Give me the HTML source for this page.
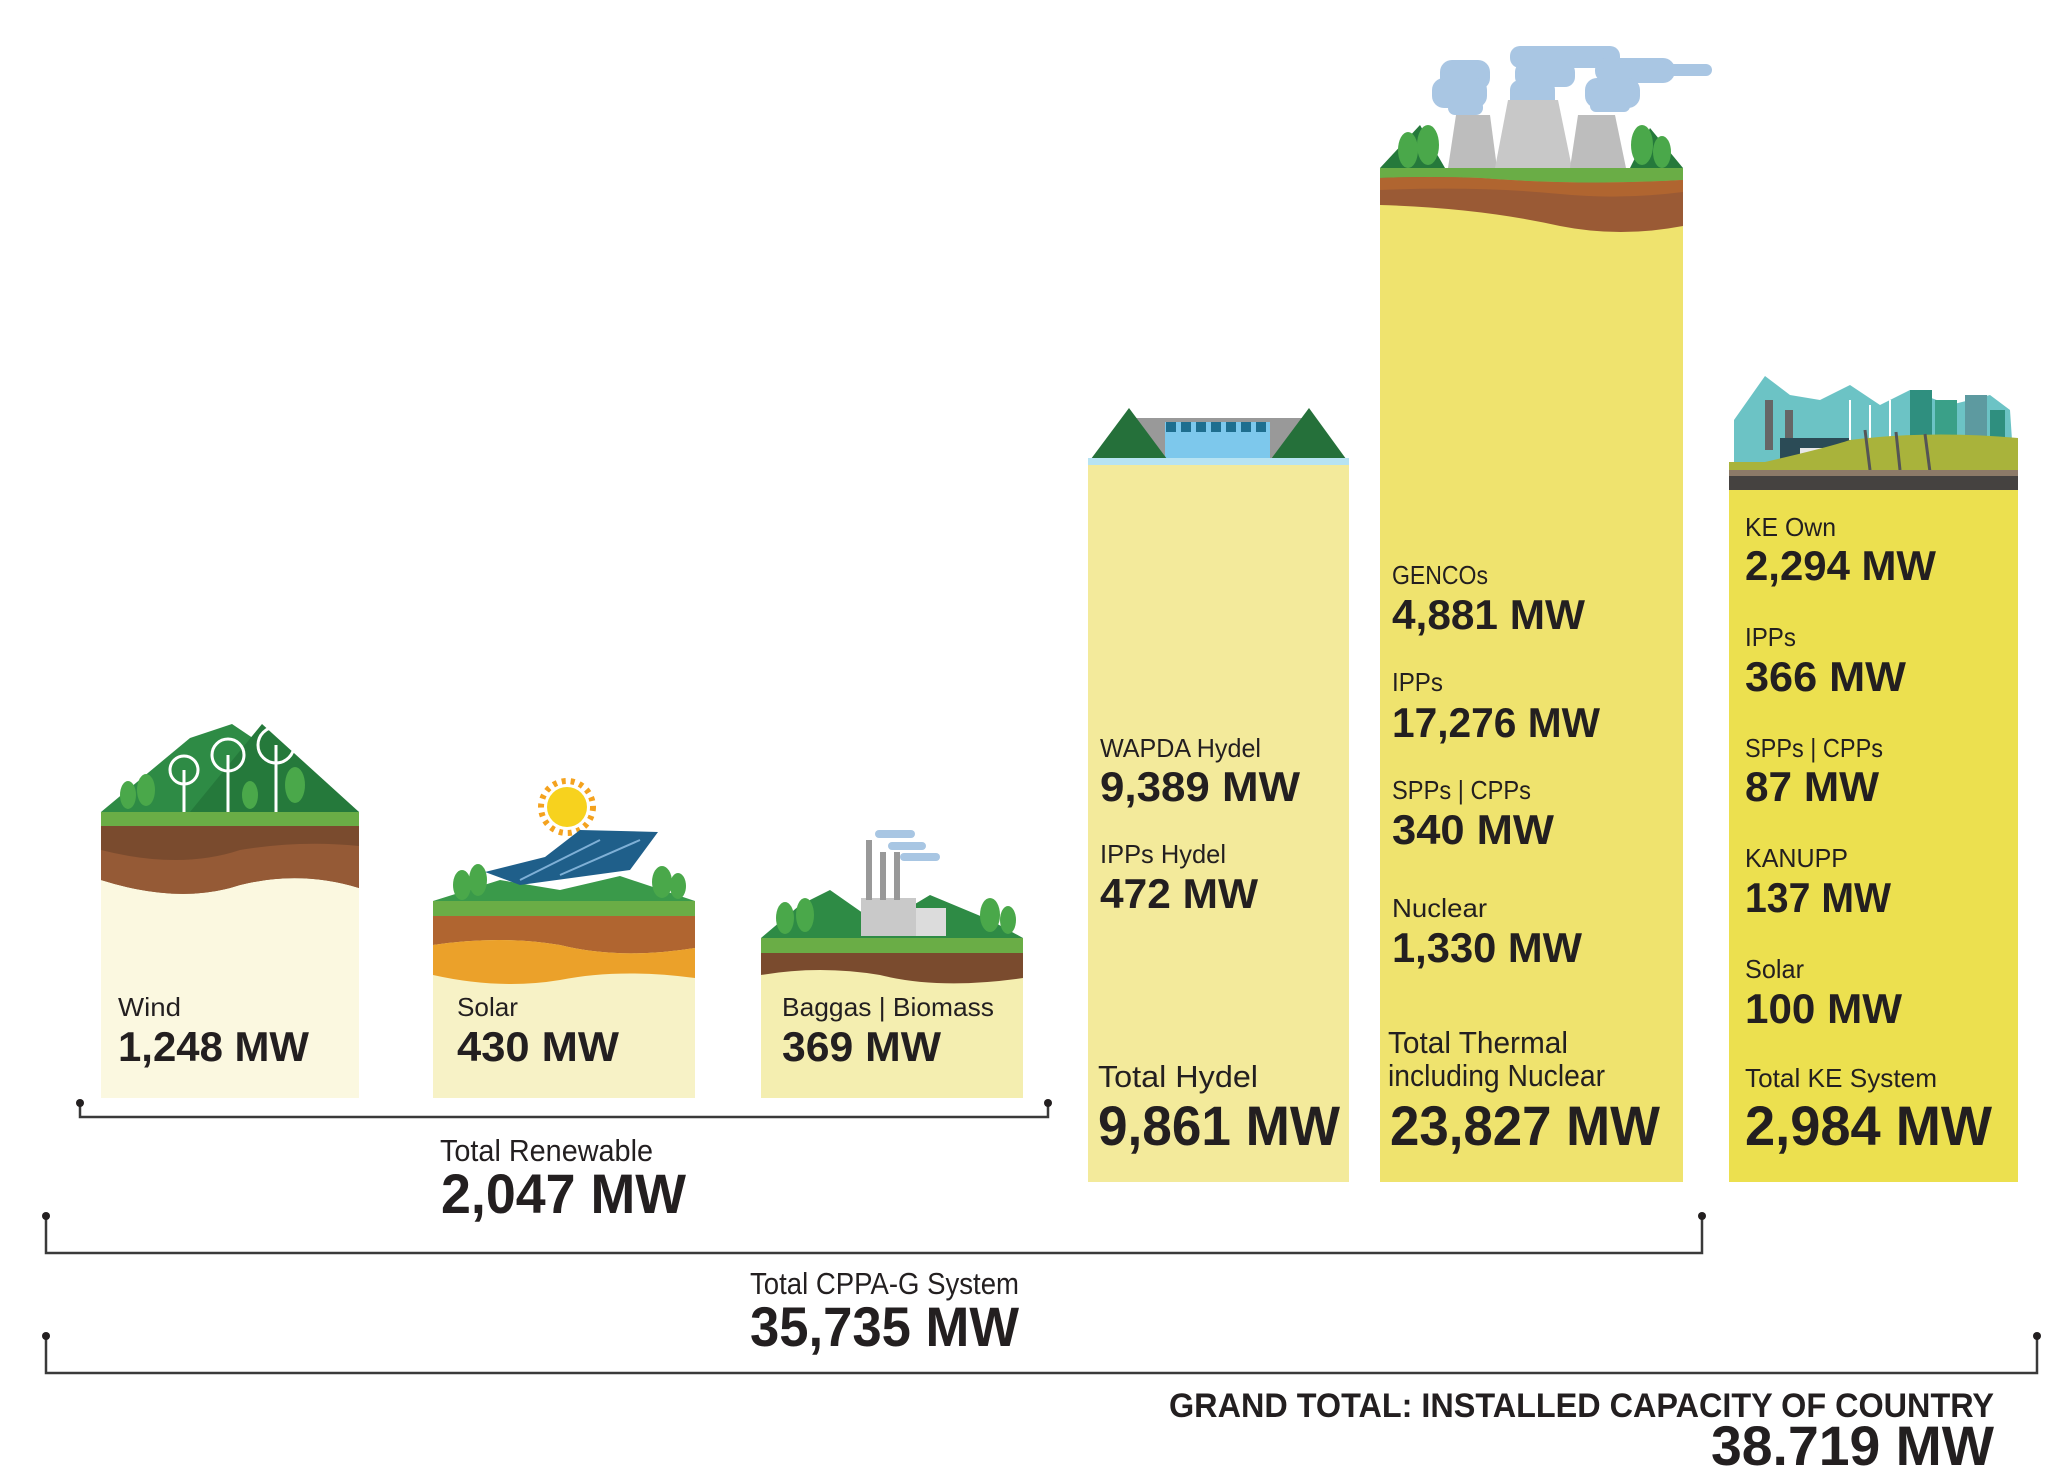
<!DOCTYPE html>
<html><head><meta charset="utf-8"><style>
html,body{margin:0;padding:0;background:#fff;}
svg{display:block}
text{font-family:"Liberation Sans Narrow","Liberation Sans",sans-serif;fill:#231f20;}
.l{font-size:26px;}
.v{font-size:42px;font-weight:bold;}
.tl{font-size:31px;}
.tv{font-size:56px;font-weight:bold;}
</style></head><body>
<svg width="2064" height="1480" viewBox="0 0 2064 1480" xmlns="http://www.w3.org/2000/svg">
<!-- WIND -->
<rect x="101" y="812" width="258" height="286" fill="#fbf8e0"/>
<polygon points="101,812 190,738 232,724 300,770 359,812" fill="#2e8b45"/>
<polygon points="190,812 262,724 359,812" fill="#25793b"/>
<g stroke="#fff" stroke-width="3" fill="none">
<line x1="184" y1="812" x2="184" y2="770"/><line x1="228" y1="812" x2="228" y2="755"/><line x1="276" y1="812" x2="276" y2="745"/>
<circle cx="184" cy="770" r="14"/><circle cx="228" cy="755" r="16"/><circle cx="276" cy="745" r="18"/>
</g>
<g fill="#4aa84a"><ellipse cx="128" cy="795" rx="8" ry="14"/><ellipse cx="146" cy="790" rx="9" ry="16"/><ellipse cx="250" cy="795" rx="8" ry="14"/><ellipse cx="295" cy="785" rx="10" ry="18"/></g>
<rect x="101" y="812" width="258" height="14" fill="#6aad46"/>
<path d="M101,826 H359 V888 Q300,870 240,885 Q180,905 101,880 Z" fill="#7a4b2e"/>
<path d="M101,850 Q180,870 240,850 Q300,840 359,846 V888 Q300,870 240,885 Q180,905 101,880 Z" fill="#955a36"/>
<!-- SOLAR -->
<rect x="433" y="901" width="262" height="197" fill="#f7f2c6"/>
<polygon points="433,901 500,880 560,890 620,876 695,901" fill="#3a9a4a"/>
<circle cx="567" cy="807" r="20" fill="#f7d21e"/>
<circle cx="567" cy="807" r="26" fill="none" stroke="#f4a21e" stroke-width="6" stroke-dasharray="4 5"/>
<polygon points="485,872 545,857 580,830 658,832 630,870 520,885" fill="#1f5f8a"/>
<g stroke="#7fb0d6" stroke-width="2"><line x1="520" y1="880" x2="600" y2="840"/><line x1="560" y1="875" x2="640" y2="840"/></g>
<g fill="#4aa84a"><ellipse cx="462" cy="885" rx="9" ry="15"/><ellipse cx="478" cy="880" rx="9" ry="16"/><ellipse cx="662" cy="882" rx="10" ry="16"/><ellipse cx="678" cy="886" rx="8" ry="13"/></g>
<rect x="433" y="901" width="262" height="15" fill="#6aad46"/>
<path d="M433,916 H695 V948 Q620,960 560,945 Q500,935 433,945 Z" fill="#b06530"/>
<path d="M433,945 Q500,935 560,945 Q620,960 695,948 V978 Q620,968 560,980 Q500,990 433,975 Z" fill="#eba12a"/>
<!-- BIOMASS -->
<rect x="761" y="938" width="262" height="160" fill="#f4eeb0"/>
<polygon points="761,938 800,905 830,890 880,925 930,895 990,920 1023,938" fill="#2e8b45"/>
<rect x="861" y="898" width="55" height="38" fill="#c9c9c9"/><rect x="916" y="908" width="30" height="28" fill="#dcdcdc"/>
<g fill="#999"><rect x="866" y="840" width="6" height="60"/><rect x="880" y="852" width="6" height="48"/><rect x="894" y="852" width="6" height="48"/></g>
<g fill="#a8c6e3"><rect x="875" y="830" width="40" height="8" rx="4"/><rect x="888" y="842" width="38" height="8" rx="4"/><rect x="900" y="853" width="40" height="8" rx="4"/></g>
<g fill="#4aa84a"><ellipse cx="785" cy="918" rx="9" ry="16"/><ellipse cx="805" cy="915" rx="9" ry="17"/><ellipse cx="990" cy="915" rx="10" ry="17"/><ellipse cx="1008" cy="920" rx="8" ry="14"/></g>
<rect x="761" y="938" width="262" height="15" fill="#6aad46"/>
<path d="M761,953 H1023 V978 Q940,990 880,975 Q820,965 761,975 Z" fill="#7a4b2e"/>
<!-- HYDEL -->
<rect x="1088" y="463" width="261" height="719" fill="#f3ea9b"/>
<rect x="1135" y="418" width="170" height="45" fill="#999"/>
<rect x="1165" y="422" width="105" height="41" fill="#7dc8ec"/>
<g fill="#1e6e8f"><rect x="1166" y="422" width="10" height="10"/><rect x="1181" y="422" width="10" height="10"/><rect x="1196" y="422" width="10" height="10"/><rect x="1211" y="422" width="10" height="10"/><rect x="1226" y="422" width="10" height="10"/><rect x="1241" y="422" width="10" height="10"/><rect x="1256" y="422" width="10" height="10"/></g>
<polygon points="1088,463 1129,408 1170,463" fill="#25703a"/>
<polygon points="1268,463 1309,408 1349,463" fill="#25703a"/>
<rect x="1088" y="458" width="261" height="7" fill="#b7e3f2"/>
<!-- THERMAL -->
<rect x="1380" y="168" width="303" height="1014" fill="#efe36e"/>
<g fill="#a9c6e3">
<rect x="1440" y="60" width="50" height="30" rx="12"/><rect x="1432" y="78" width="55" height="30" rx="12"/><rect x="1448" y="100" width="35" height="15" rx="7"/>
<rect x="1510" y="46" width="110" height="22" rx="10"/><rect x="1515" y="62" width="60" height="25" rx="10"/><rect x="1510" y="80" width="45" height="35" rx="10"/>
<rect x="1595" y="58" width="80" height="25" rx="12"/><rect x="1660" y="64" width="52" height="12" rx="6"/><rect x="1585" y="78" width="55" height="30" rx="12"/><rect x="1590" y="100" width="40" height="12" rx="6"/>
</g>
<polygon points="1380,168 1420,125 1445,168" fill="#25793b"/><polygon points="1630,168 1650,128 1683,168" fill="#25793b"/>
<polygon points="1448,168 1456,115 1490,115 1497,168" fill="#bdbdbd"/>
<polygon points="1495,168 1508,100 1558,100 1572,168" fill="#c8c8c8"/>
<polygon points="1570,168 1578,115 1615,115 1626,168" fill="#bdbdbd"/>
<g fill="#4aa84a"><ellipse cx="1408" cy="150" rx="10" ry="18"/><ellipse cx="1428" cy="145" rx="11" ry="20"/><ellipse cx="1642" cy="145" rx="11" ry="20"/><ellipse cx="1662" cy="152" rx="9" ry="16"/></g>
<path d="M1380,168 H1683 V180 Q1580,186 1480,178 Q1430,176 1380,180 Z" fill="#6aad46"/>
<path d="M1380,178 Q1430,176 1480,178 Q1580,186 1683,180 V226 Q1620,238 1560,226 Q1480,208 1380,205 Z" fill="#9a5a35"/>
<path d="M1380,178 Q1430,176 1480,178 Q1580,186 1683,180 V192 Q1620,200 1560,194 Q1480,186 1380,190 Z" fill="#b06530"/>
<!-- KE -->
<rect x="1729" y="490" width="289" height="692" fill="#ece04f"/>
<polygon points="1734,420 1765,376 1790,395 1820,400 1850,385 1880,405 1910,390 1950,405 1990,395 2010,410 2014,470 1734,470" fill="#6cc3c5"/>
<rect x="1910" y="390" width="22" height="60" fill="#2f8f7f"/><rect x="1935" y="400" width="22" height="50" fill="#3aa088"/><rect x="1965" y="395" width="22" height="55" fill="#5d9aa0"/><rect x="1990" y="410" width="15" height="40" fill="#2f8f7f"/>
<rect x="1765" y="400" width="8" height="50" fill="#666"/><rect x="1785" y="410" width="8" height="40" fill="#666"/>
<rect x="1780" y="438" width="70" height="25" fill="#2b4b56"/><rect x="1800" y="448" width="30" height="15" fill="#e8e8e8"/>
<g stroke="#fff" stroke-width="2"><line x1="1850" y1="440" x2="1850" y2="400"/><line x1="1870" y1="440" x2="1870" y2="405"/><line x1="1890" y1="440" x2="1890" y2="400"/></g>
<path d="M1729,470 Q1820,450 1850,440 Q1930,430 2018,438 V470 Z" fill="#a9b33b"/>
<rect x="1729" y="462" width="289" height="14" fill="#a9b33b"/>
<g stroke="#555" stroke-width="3"><line x1="1870" y1="470" x2="1865" y2="430"/><line x1="1900" y1="470" x2="1896" y2="432"/><line x1="1930" y1="472" x2="1925" y2="434"/></g>
<rect x="1729" y="470" width="289" height="7" fill="#8c7a68"/>
<rect x="1729" y="476" width="289" height="14" fill="#454240"/>
<!-- Brackets -->
<g stroke="#3a3a3a" stroke-width="2.5" fill="none">
<polyline points="80,1103 80,1117 1048,1117 1048,1103"/>
<polyline points="46,1216 46,1253 1702,1253 1702,1216"/>
<polyline points="46,1336 46,1373 2037,1373 2037,1336"/>
</g>
<g fill="#231f20"><circle cx="80" cy="1103" r="4"/><circle cx="1048" cy="1103" r="4"/><circle cx="46" cy="1216" r="4"/><circle cx="1702" cy="1216" r="4"/><circle cx="46" cy="1336" r="4"/><circle cx="2037" cy="1336" r="4"/></g>
<!-- Renewable text -->
<text class="l" x="118" y="1016" textLength="63" lengthAdjust="spacingAndGlyphs">Wind</text>
<text class="v" x="118" y="1061" textLength="191" lengthAdjust="spacingAndGlyphs">1,248 MW</text>
<text class="l" x="457" y="1016" textLength="61" lengthAdjust="spacingAndGlyphs">Solar</text>
<text class="v" x="457" y="1061" textLength="162" lengthAdjust="spacingAndGlyphs">430 MW</text>
<text class="l" x="782" y="1016" textLength="212" lengthAdjust="spacingAndGlyphs">Baggas | Biomass</text>
<text class="v" x="782" y="1061" textLength="159" lengthAdjust="spacingAndGlyphs">369 MW</text>
<text class="tl" x="440" y="1161" textLength="213" lengthAdjust="spacingAndGlyphs">Total Renewable</text>
<text class="tv" x="441" y="1213" textLength="245" lengthAdjust="spacingAndGlyphs">2,047 MW</text>
<text class="tl" x="750" y="1294" textLength="269" lengthAdjust="spacingAndGlyphs">Total CPPA-G System</text>
<text class="tv" x="750" y="1346" textLength="269" lengthAdjust="spacingAndGlyphs">35,735 MW</text>
<text x="1169" y="1417" textLength="825" lengthAdjust="spacingAndGlyphs" style="font-size:34px;font-weight:bold">GRAND TOTAL: INSTALLED CAPACITY OF COUNTRY</text>
<text class="tv" x="1711" y="1465" textLength="283" lengthAdjust="spacingAndGlyphs">38.719 MW</text>
<!-- Hydel text -->
<text class="l" x="1100" y="757" textLength="161" lengthAdjust="spacingAndGlyphs">WAPDA Hydel</text>
<text class="v" x="1100" y="801" textLength="200" lengthAdjust="spacingAndGlyphs">9,389 MW</text>
<text class="l" x="1100" y="863" textLength="126" lengthAdjust="spacingAndGlyphs">IPPs Hydel</text>
<text class="v" x="1100" y="908" textLength="158" lengthAdjust="spacingAndGlyphs">472 MW</text>
<text class="tl" x="1098" y="1087" textLength="160" lengthAdjust="spacingAndGlyphs">Total Hydel</text>
<text class="tv" x="1098" y="1145" textLength="242" lengthAdjust="spacingAndGlyphs">9,861 MW</text>
<!-- Thermal text -->
<text class="l" x="1392" y="584" textLength="96" lengthAdjust="spacingAndGlyphs">GENCOs</text>
<text class="v" x="1392" y="629" textLength="193" lengthAdjust="spacingAndGlyphs">4,881 MW</text>
<text class="l" x="1392" y="691" textLength="51" lengthAdjust="spacingAndGlyphs">IPPs</text>
<text class="v" x="1392" y="737" textLength="208" lengthAdjust="spacingAndGlyphs">17,276 MW</text>
<text class="l" x="1392" y="799" textLength="139" lengthAdjust="spacingAndGlyphs">SPPs | CPPs</text>
<text class="v" x="1392" y="844" textLength="162" lengthAdjust="spacingAndGlyphs">340 MW</text>
<text class="l" x="1392" y="917" textLength="95" lengthAdjust="spacingAndGlyphs">Nuclear</text>
<text class="v" x="1392" y="962" textLength="190" lengthAdjust="spacingAndGlyphs">1,330 MW</text>
<text class="tl" x="1388" y="1053" textLength="180" lengthAdjust="spacingAndGlyphs">Total Thermal</text>
<text class="tl" x="1388" y="1086" textLength="217" lengthAdjust="spacingAndGlyphs">including Nuclear</text>
<text class="tv" x="1390" y="1145" textLength="270" lengthAdjust="spacingAndGlyphs">23,827 MW</text>
<!-- KE text -->
<text class="l" x="1745" y="536" textLength="91" lengthAdjust="spacingAndGlyphs">KE Own</text>
<text class="v" x="1745" y="580" textLength="191" lengthAdjust="spacingAndGlyphs">2,294 MW</text>
<text class="l" x="1745" y="646" textLength="51" lengthAdjust="spacingAndGlyphs">IPPs</text>
<text class="v" x="1745" y="691" textLength="161" lengthAdjust="spacingAndGlyphs">366 MW</text>
<text class="l" x="1745" y="757" textLength="138" lengthAdjust="spacingAndGlyphs">SPPs | CPPs</text>
<text class="v" x="1745" y="801" textLength="134" lengthAdjust="spacingAndGlyphs">87 MW</text>
<text class="l" x="1745" y="867" textLength="103" lengthAdjust="spacingAndGlyphs">KANUPP</text>
<text class="v" x="1745" y="912" textLength="146" lengthAdjust="spacingAndGlyphs">137 MW</text>
<text class="l" x="1745" y="978" textLength="59" lengthAdjust="spacingAndGlyphs">Solar</text>
<text class="v" x="1745" y="1023" textLength="157" lengthAdjust="spacingAndGlyphs">100 MW</text>
<text class="l" x="1745" y="1087" textLength="192" lengthAdjust="spacingAndGlyphs">Total KE System</text>
<text class="tv" x="1745" y="1145" textLength="247" lengthAdjust="spacingAndGlyphs">2,984 MW</text>
</svg>
</body></html>
